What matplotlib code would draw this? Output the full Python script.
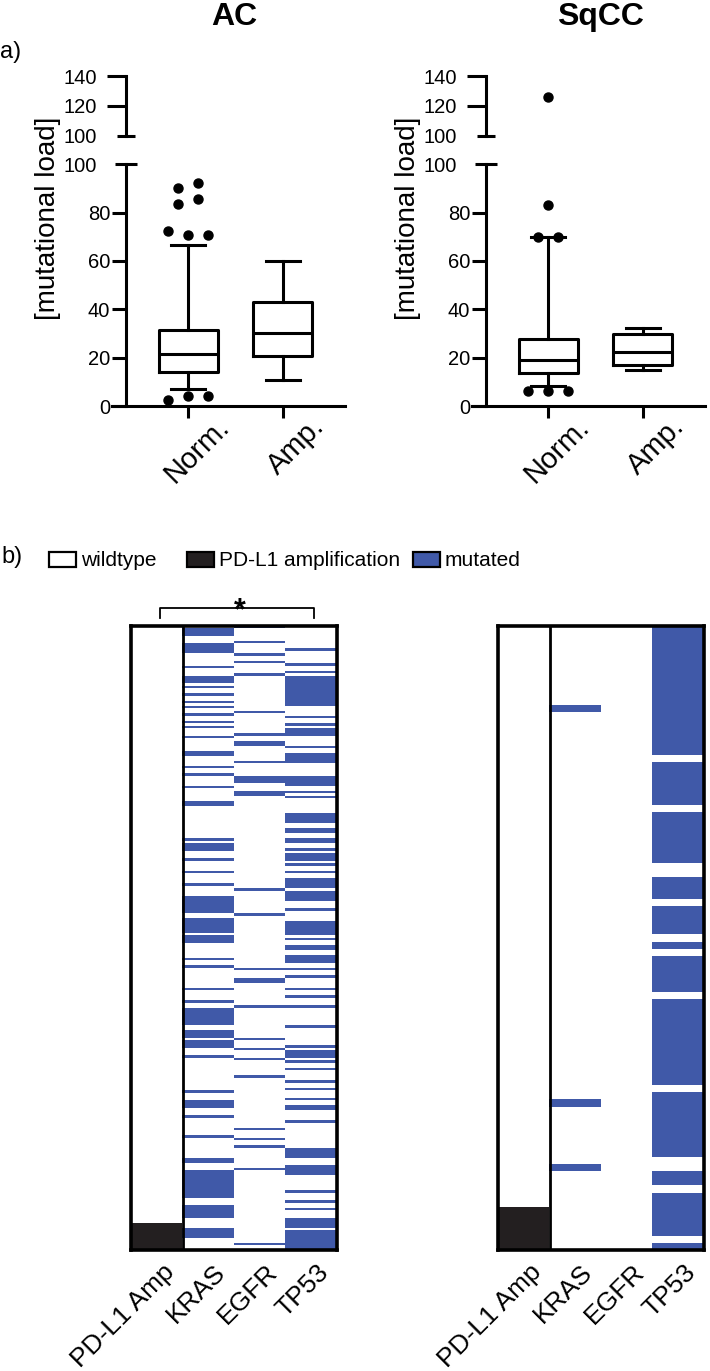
import numpy as np
import matplotlib
matplotlib.use("Agg")
import matplotlib.pyplot as plt
from matplotlib.colors import ListedColormap
from matplotlib.patches import Rectangle
from matplotlib.transforms import ScaledTranslation

plt.rcParams['font.family'] = ['Liberation Sans', 'DejaVu Sans']

# ---- box plot data (mutational load) ----
groups = ['Norm.', 'Amp.']

ac_q1 = [14.2, 20.7]
ac_med = [21.5, 30.4]
ac_q3 = [31.5, 43.2]
ac_lo = [6.9, 10.8]
ac_hi = [66.7, 60.0]
ac_norm_out = [2.5, 4.1, 4.1, 72.6, 70.8, 70.8, 83.6, 85.7, 90.1, 92.2]

sq_q1 = [13.6, 17.0]
sq_med = [19.1, 22.3]
sq_q3 = [27.7, 29.6]
sq_lo = [8.3, 14.9]
sq_hi = [70.0, 32.1]
sq_norm_out = [6.2, 6.2, 6.2, 70.0, 70.0, 83.1, 126.0]

# ---- oncoprint data: (start_row, end_row) runs of altered samples ----
genes = ['PD-L1 Amp', 'KRAS', 'EGFR', 'TP53']

ac_n = 250
ac_amp = [(239, 250)]
ac_kras = [(1, 4), (7, 11), (16, 17), (20, 23), (24, 25), (27, 28), (30, 31), (32, 33),
           (35, 36), (38, 39), (40, 41), (44, 45), (50, 52), (56, 57), (59, 60), (64, 65),
           (70, 72), (85, 86), (87, 90), (93, 94), (98, 99), (103, 104), (108, 115),
           (117, 123), (124, 127), (133, 134), (136, 137), (145, 146), (150, 151),
           (153, 160), (162, 165), (166, 169), (172, 173), (186, 187), (190, 193),
           (196, 197), (204, 205), (213, 215), (218, 229), (232, 237), (241, 245)]
ac_egfr = [(0, 1), (6, 7), (11, 12), (14, 15), (19, 20), (34, 35), (43, 44), (46, 48),
           (54, 55), (60, 63), (66, 68), (105, 106), (115, 116), (137, 138), (141, 143),
           (152, 153), (165, 166), (169, 170), (173, 174), (180, 181), (201, 202),
           (205, 206), (208, 209), (217, 218), (247, 248)]
ac_tp53 = [(9, 10), (15, 16), (18, 19), (20, 32), (36, 37), (39, 40), (41, 44), (48, 49),
           (51, 55), (60, 64), (66, 67), (68, 69), (75, 79), (81, 83), (85, 87), (89, 90),
           (91, 94), (95, 96), (98, 99), (101, 105), (106, 110), (113, 114), (118, 124),
           (125, 126), (128, 130), (132, 135), (137, 138), (140, 141), (145, 146),
           (148, 149), (152, 153), (160, 161), (168, 169), (170, 173), (174, 175),
           (177, 178), (182, 183), (185, 186), (189, 190), (192, 194), (198, 199),
           (209, 213), (216, 220), (226, 227), (230, 231), (233, 234), (237, 241), (242, 250)]

sq_n = 87
sq_amp = [(81, 87)]
sq_kras = [(11, 12), (66, 67), (75, 76)]
sq_egfr = []
sq_tp53 = [(0, 18), (19, 25), (26, 33), (35, 38), (39, 43), (44, 45), (46, 51), (52, 64),
           (65, 74), (76, 78), (79, 85), (86, 87)]

legend_labels = ['wildtype', 'PD-L1 amplification', 'mutated']
mut_color = '#4059A8'
amp_color = '#231F20'
legend_colors = ['white', amp_color, mut_color]

W, H = 710, 1371
fig = plt.figure(figsize=(W / 100, H / 100), dpi=100)


def px_axes(l, t, r, b):
    return fig.add_axes([l / W, 1 - b / H, (r - l) / W, (b - t) / H])


def spread(vals, step=0.21, tol=3.5):
    # lay close values side by side, like a scatter dot plot
    grps = [[vals[0]]]
    for v in vals[1:]:
        if abs(v - grps[-1][-1]) < tol:
            grps[-1].append(v)
        else:
            grps.append([v])
    out = []
    for g in grps:
        for i, v in enumerate(g):
            out.append(((i - (len(g) - 1) / 2) * step, v))
    return out


LW = 2.2


def box_panel(x0, q1, med, q3, lo, hi, outliers):
    lo_ax = px_axes(x0 + 111.7, 164.3, x0 + 345, 406)
    up_ax = px_axes(x0 + 111.7, 76, x0 + 345, 135.7)
    stats = [dict(med=med[i], q1=q1[i], q3=q3[i], whislo=lo[i], whishi=hi[i], fliers=[])
             for i in range(len(groups))]
    line = dict(color='black', linewidth=LW)
    lo_ax.bxp(stats, positions=[1, 2], widths=0.625, capwidths=0.36, showfliers=False,
              boxprops=line, whiskerprops=line, capprops=line, medianprops=line)
    for off, v in spread(outliers):
        ax = up_ax if v > 100 else lo_ax
        ax.plot(1 + off, v, 'o', color='black', markersize=6.5, clip_on=False)

    for ax in (lo_ax, up_ax):
        ax.set_xlim(0.19, 2.66)
        ax.spines['top'].set_visible(False)
        ax.spines['right'].set_visible(False)
        ax.spines['left'].set_position(('axes', 0.0613))
        ax.spines['left'].set_linewidth(LW)
        ax.spines['bottom'].set_linewidth(LW)
        ax.patch.set_visible(False)

    lo_ax.set_ylim(0, 100)
    lo_ax.set_yticks([0, 20, 40, 60, 80])
    lo_ax.set_yticks([100], labels=['100'], minor=True)
    lo_ax.tick_params(axis='y', which='major', direction='out', length=10, width=LW,
                      pad=1.5, labelsize=14.5)
    lo_ax.tick_params(axis='y', which='minor', direction='inout', length=16.5, width=LW,
                      pad=12.6, labelsize=14.5)
    lo_ax.set_xticks([1, 2], labels=['', ''])
    lo_ax.tick_params(axis='x', direction='out', length=8.6, width=LW)
    off = ScaledTranslation(0.47, -0.06, fig.dpi_scale_trans)
    for pos, g in zip([1, 2], groups):
        lo_ax.text(pos, 0, g, transform=lo_ax.get_xaxis_transform() + off, rotation=45,
                   ha='right', va='top', fontsize=21)

    up_ax.set_ylim(100, 140)
    up_ax.spines['bottom'].set_visible(False)
    up_ax.set_xticks([])
    up_ax.set_yticks([120, 140])
    up_ax.set_yticks([100], labels=['100'], minor=True)
    up_ax.tick_params(axis='y', which='major', direction='out', length=13.7, width=LW,
                      pad=7.4, labelsize=14.5)
    up_ax.tick_params(axis='y', which='minor', direction='inout', length=13, width=LW,
                      pad=14.5, labelsize=14.5)
    return lo_ax, up_ax


def column(n, runs, val=1):
    col = np.zeros(n)
    for a, b in runs:
        col[a:b] = val
    return col


def heat_panel(x0, n, amp, kras, egfr, tp53):
    ax = px_axes(x0, 626, x0 + 206, 1250)
    mat = np.column_stack([column(n, amp, 2), column(n, kras), column(n, egfr), column(n, tp53)])
    cmap = ListedColormap(['white', mut_color, amp_color])
    ax.imshow(mat, cmap=cmap, vmin=0, vmax=2, aspect='auto', interpolation='nearest',
              extent=(-0.5, 3.5, n, 0))
    ax.axvline(0.5, color='black', linewidth=2.0)
    for s in ax.spines.values():
        s.set_linewidth(2.6)
    ax.set_xticks([])
    ax.set_yticks([])
    off = ScaledTranslation(0.22, -0.10, fig.dpi_scale_trans)
    for j, g in enumerate(genes):
        ax.text(j, 0, g, transform=ax.get_xaxis_transform() + off, rotation=45,
                ha='right', va='top', fontsize=19)
    return ax


box_panel(0, ac_q1, ac_med, ac_q3, ac_lo, ac_hi, ac_norm_out)
box_panel(360, sq_q1, sq_med, sq_q3, sq_lo, sq_hi, sq_norm_out)
heat_panel(131, ac_n, ac_amp, ac_kras, ac_egfr, ac_tp53)
heat_panel(498, sq_n, sq_amp, sq_kras, sq_egfr, sq_tp53)

# overlay for titles, panel letters, legend and bracket (pixel coordinates)
ov = fig.add_axes([0, 0, 1, 1], zorder=-1)
ov.set_xlim(0, W)
ov.set_ylim(H, 0)
ov.axis('off')

ov.text(234, 17, 'AC', ha='center', va='center', fontsize=23, fontweight='bold')
ov.text(600, 17, 'SqCC', ha='center', va='center', fontsize=23, fontweight='bold')
ov.text(0, 52, 'a)', ha='left', va='center', fontsize=17)
ov.text(1, 557, 'b)', ha='left', va='center', fontsize=17)
for x in (48, 408):
    ov.text(x, 218, '[mutational load]', rotation=90, ha='center', va='center', fontsize=20)

for bx, lab, c in zip([49, 187, 413], legend_labels, legend_colors):
    ov.add_patch(Rectangle((bx, 552), 27, 15, facecolor=c, edgecolor='black', linewidth=1.6))
    ov.text(bx + 32, 561, lab, ha='left', va='center', fontsize=15)

ov.plot([160, 160, 314, 314], [618, 608, 608, 618], color='black', linewidth=1.3)
ov.text(240, 611, '*', ha='center', va='center', fontsize=22, fontweight='bold')

plt.savefig("out.png", dpi=100)
